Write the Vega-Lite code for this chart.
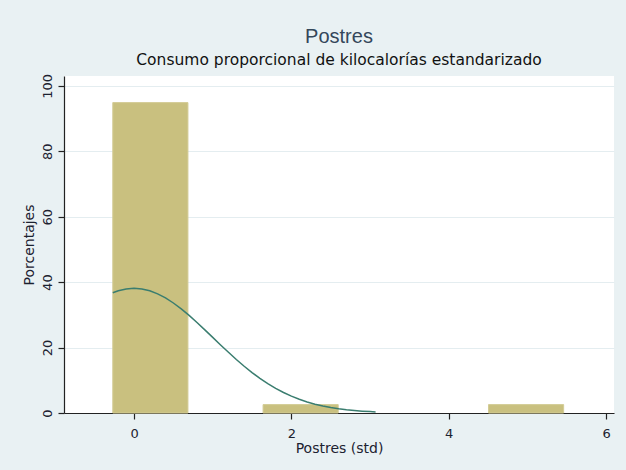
{
  "$schema": "https://vega.github.io/schema/vega-lite/v6.json",
  "width": 550,
  "height": 337,
  "autosize": {"type": "none"},
  "padding": {"left": 64, "top": 76, "right": 12, "bottom": 57},
  "background": "#e9f1f3",
  "title": {
    "text": "Postres",
    "subtitle": "Consumo proporcional de kilocalorías estandarizado",
    "anchor": "middle",
    "font": "Liberation Sans",
    "fontSize": 20,
    "fontWeight": "normal",
    "color": "#34475a",
    "subtitleFont": "DejaVu Sans",
    "subtitleFontSize": 15.5,
    "subtitleColor": "#111111",
    "subtitlePadding": 6,
    "offset": 5
  },
  "datasets": {
    "barras": [
      {"desde": -0.27, "hasta": 0.685, "porcentaje": 94.87},
      {"desde": 1.64, "hasta": 2.595, "porcentaje": 2.56},
      {"desde": 4.505, "hasta": 5.46, "porcentaje": 2.56}
    ],
    "normal": [
      {"x": -0.27, "densidad": 36.735},
      {"x": -0.2, "densidad": 37.345},
      {"x": -0.1, "densidad": 37.909},
      {"x": 0.0, "densidad": 38.099},
      {"x": 0.1, "densidad": 37.909},
      {"x": 0.2, "densidad": 37.345},
      {"x": 0.3, "densidad": 36.423},
      {"x": 0.4, "densidad": 35.17},
      {"x": 0.5, "densidad": 33.622},
      {"x": 0.6, "densidad": 31.823},
      {"x": 0.7, "densidad": 29.82},
      {"x": 0.8, "densidad": 27.666},
      {"x": 0.9, "densidad": 25.411},
      {"x": 1.0, "densidad": 23.108},
      {"x": 1.1, "densidad": 20.805},
      {"x": 1.2, "densidad": 18.545},
      {"x": 1.3, "densidad": 16.366},
      {"x": 1.4, "densidad": 14.299},
      {"x": 1.5, "densidad": 12.369},
      {"x": 1.6, "densidad": 10.593},
      {"x": 1.7, "densidad": 8.982},
      {"x": 1.8, "densidad": 7.54},
      {"x": 1.9, "densidad": 6.266},
      {"x": 2.0, "densidad": 5.156},
      {"x": 2.1, "densidad": 4.2},
      {"x": 2.2, "densidad": 3.388},
      {"x": 2.3, "densidad": 2.705},
      {"x": 2.4, "densidad": 2.139},
      {"x": 2.5, "densidad": 1.674},
      {"x": 2.6, "densidad": 1.297},
      {"x": 2.7, "densidad": 0.995},
      {"x": 2.8, "densidad": 0.756},
      {"x": 2.9, "densidad": 0.568},
      {"x": 3.0, "densidad": 0.423},
      {"x": 3.07, "densidad": 0.343}
    ]
  },
  "layer": [
    {
      "data": {"name": "barras"},
      "mark": {"type": "bar", "color": "#c9c07f", "stroke": "#d3cc95", "strokeWidth": 1},
      "encoding": {
        "x": {
          "field": "desde",
          "type": "quantitative",
          "scale": {"domain": [-0.89, 6.1], "nice": false, "zero": false},
          "axis": {
            "values": [0, 2, 4, 6],
            "format": "d",
            "title": "Postres (std)",
            "grid": false
          }
        },
        "x2": {"field": "hasta"},
        "y": {
          "field": "porcentaje",
          "type": "quantitative",
          "scale": {"domain": [0, 103], "nice": false},
          "axis": {
            "values": [0, 20, 40, 60, 80, 100],
            "format": "d",
            "title": "Porcentajes",
            "grid": true,
            "labelAngle": -90,
            "labelAlign": "center",
            "labelBaseline": "bottom"
          }
        },
        "y2": {"datum": 0}
      }
    },
    {
      "data": {"name": "normal"},
      "mark": {"type": "line", "color": "#3a7d6f", "strokeWidth": 1.5},
      "encoding": {
        "x": {"field": "x", "type": "quantitative"},
        "y": {"field": "densidad", "type": "quantitative"}
      }
    }
  ],
  "config": {
    "view": {"fill": "white", "stroke": null},
    "axis": {
      "labelFont": "DejaVu Sans",
      "labelFontSize": 13,
      "labelColor": "#1c2230",
      "titleFont": "DejaVu Sans",
      "titleFontSize": 14,
      "titleFontWeight": "normal",
      "titleColor": "#1c2230",
      "domainColor": "#222222",
      "domainWidth": 1.2,
      "tickColor": "#222222",
      "tickSize": 6,
      "tickWidth": 1.2,
      "gridColor": "#e4edf0",
      "gridWidth": 1
    },
    "axisX": {"labelPadding": 8, "titlePadding": 1},
    "axisY": {"labelPadding": 4, "titlePadding": 5}
  }
}
